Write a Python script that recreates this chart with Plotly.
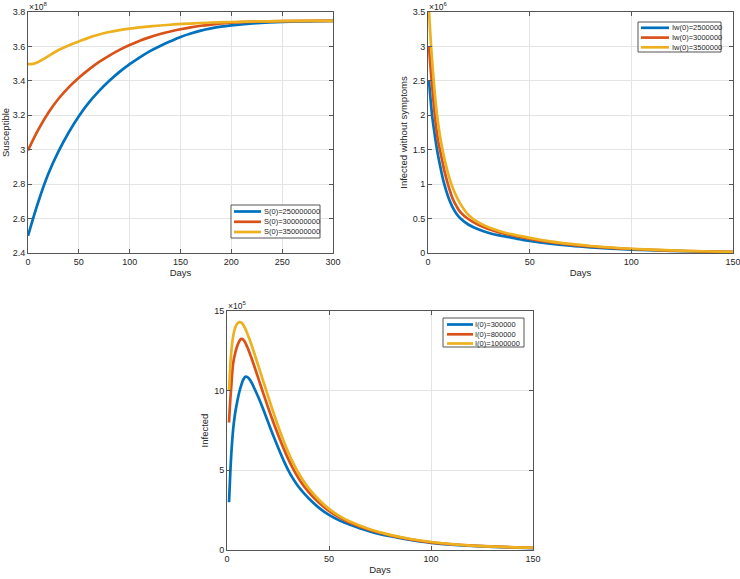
import plotly.graph_objects as go

# ---------------- data ----------------
# Panel 1: Susceptible (values in units of 1e8)
s_days = [0, 10, 20, 30, 40, 50, 60, 70, 80, 90, 100, 110, 120, 130, 140, 150, 160, 170, 180, 190, 200, 225, 250, 275, 300]
s_250 = [2.50, 2.695, 2.86, 2.99, 3.10, 3.195, 3.275, 3.342, 3.40, 3.452, 3.497, 3.537, 3.573, 3.603, 3.63, 3.655, 3.675, 3.692, 3.705, 3.715, 3.722, 3.735, 3.743, 3.746, 3.748]
s_300 = [2.996, 3.115, 3.215, 3.296, 3.362, 3.418, 3.467, 3.51, 3.547, 3.58, 3.608, 3.633, 3.654, 3.672, 3.687, 3.70, 3.711, 3.72, 3.727, 3.733, 3.738, 3.744, 3.747, 3.748, 3.748]
s_350_days = [0, 5, 10, 15, 20, 25, 30, 40, 50, 60, 70, 80, 90, 100, 120, 140, 160, 180, 200, 225, 250, 275, 300]
s_350 = [3.497, 3.499, 3.51, 3.526, 3.544, 3.562, 3.579, 3.606, 3.629, 3.651, 3.669, 3.684, 3.695, 3.703, 3.716, 3.726, 3.733, 3.739, 3.742, 3.745, 3.747, 3.748, 3.748]
s_names = ["S(0)=250000000", "S(0)=300000000", "S(0)=350000000"]

# Panel 2: Infected without symptoms (values in units of 1e6)
iw_days = [0.5, 1, 2, 3, 4, 5, 6, 7, 8, 10, 12, 14, 16, 20, 25, 30, 35, 40, 45, 50, 60, 70, 80, 90, 100, 120, 140, 150]
iw_25 = [2.5, 2.32, 2.0, 1.78, 1.58, 1.41, 1.26, 1.12, 1.0, 0.81, 0.67, 0.57, 0.50, 0.41, 0.34, 0.29, 0.255, 0.23, 0.20, 0.175, 0.135, 0.105, 0.082, 0.064, 0.05, 0.03, 0.018, 0.014]
iw_30 = [3.0, 2.79, 2.43, 2.1, 1.83, 1.62, 1.48, 1.34, 1.2, 0.98, 0.80, 0.68, 0.59, 0.49, 0.405, 0.345, 0.30, 0.265, 0.235, 0.205, 0.158, 0.122, 0.095, 0.074, 0.058, 0.035, 0.021, 0.017]
iw_35 = [3.5, 3.25, 2.8, 2.43, 2.12, 1.88, 1.68, 1.52, 1.38, 1.14, 0.96, 0.82, 0.71, 0.55, 0.44, 0.37, 0.32, 0.28, 0.25, 0.22, 0.17, 0.132, 0.102, 0.08, 0.062, 0.037, 0.022, 0.018]
iw_names = ["Iw(0)=2500000", "Iw(0)=3000000", "Iw(0)=3500000"]

# Panel 3: Infected (values in units of 1e5)
i_days = [1, 1.5, 2, 3, 4, 5, 6, 7, 8, 9, 10, 11, 12, 14, 16, 18, 20, 22, 24, 26, 28, 30, 32, 34, 36, 38, 40, 45, 50, 55, 60, 70, 80, 90, 100, 110, 120, 135, 150]
i_03 = [3.0, 4.5, 5.8, 7.55, 8.6, 9.3, 9.9, 10.35, 10.7, 10.87, 10.85, 10.72, 10.52, 9.98, 9.4, 8.75, 8.08, 7.4, 6.76, 6.14, 5.55, 5.02, 4.56, 4.16, 3.82, 3.52, 3.25, 2.66, 2.2, 1.86, 1.6, 1.17, 0.86, 0.63, 0.45, 0.34, 0.26, 0.18, 0.12]
i_08 = [8.0, 9.2, 10.1, 11.7, 12.35, 12.8, 13.1, 13.25, 13.2, 13.0, 12.72, 12.4, 12.05, 11.3, 10.52, 9.75, 9.0, 8.27, 7.58, 6.92, 6.3, 5.72, 5.2, 4.73, 4.32, 3.96, 3.64, 2.98, 2.45, 2.05, 1.72, 1.25, 0.92, 0.67, 0.48, 0.36, 0.27, 0.19, 0.13]
i_10 = [10.0, 11.3, 12.3, 13.4, 13.95, 14.2, 14.3, 14.28, 14.12, 13.88, 13.58, 13.24, 12.88, 12.1, 11.3, 10.5, 9.7, 8.92, 8.16, 7.44, 6.76, 6.14, 5.58, 5.08, 4.63, 4.23, 3.88, 3.15, 2.58, 2.14, 1.8, 1.3, 0.95, 0.69, 0.5, 0.37, 0.28, 0.19, 0.14]
i_names = ["I(0)=300000", "I(0)=800000", "I(0)=1000000"]

colors = ["#0072BD", "#D95319", "#EDB120"]

# ---------------- figure ----------------
W, H = 740, 579
def px_x(a, b):
    return [a / W, b / W]
def px_y(top, bottom):
    return [1 - bottom / H, 1 - top / H]

fig = go.Figure()

panels = [
    ([s_days, s_days, s_350_days], [s_250, s_300, s_350], "x", "y"),
    ([iw_days] * 3, [iw_25, iw_30, iw_35], "x2", "y2"),
    ([i_days] * 3, [i_03, i_08, i_10], "x3", "y3"),
]
for days_list, series, xa, ya in panels:
    for days, vals, c in zip(days_list, series, colors):
        fig.add_trace(go.Scatter(x=days, y=vals, mode="lines", showlegend=False,
                                 line=dict(color=c, width=2.7, shape="spline", smoothing=1.0),
                                 xaxis=xa, yaxis=ya))

TXT = "#262626"
LINE = "#555555"
font = dict(family="Liberation Sans, Arial, sans-serif", size=9, color=TXT)
axis_common = dict(showline=True, linecolor=LINE, linewidth=1, mirror="ticks",
                   ticks="inside", ticklen=4, tickcolor=LINE, automargin=False,
                   ticklabeloverflow="allow",
                   showgrid=True, gridcolor="#e4e4e4", gridwidth=1, zeroline=False,
                   tickfont=dict(size=9, color=TXT))
xt = dict(text="Days", standoff=3, font=dict(size=9.5, color=TXT))

fig.update_layout(
    width=W, height=H, margin=dict(l=0, r=0, t=0, b=0),
    paper_bgcolor="white", plot_bgcolor="white", font=font, showlegend=False,
    xaxis=dict(domain=px_x(28, 333), anchor="y", range=[0, 300], tickvals=[0, 50, 100, 150, 200, 250, 300],
               title=xt, **axis_common),
    yaxis=dict(domain=px_y(12, 253), anchor="x", range=[2.4, 3.8],
               tickvals=[2.4, 2.6, 2.8, 3.0, 3.2, 3.4, 3.6, 3.8], ticktext=["2.4", "2.6", "2.8", "3", "3.2", "3.4", "3.6", "3.8"],
               title=dict(text="Susceptible", standoff=3, font=dict(size=9.5, color=TXT)), **axis_common),
    xaxis2=dict(domain=px_x(428, 733), anchor="y2", range=[0, 150], tickvals=[0, 50, 100, 150],
                title=xt, **axis_common),
    yaxis2=dict(domain=px_y(12, 253), anchor="x2", range=[0, 3.5],
                tickvals=[0, 0.5, 1, 1.5, 2, 2.5, 3, 3.5], ticktext=["0", "0.5", "1", "1.5", "2", "2.5", "3", "3.5"],
                title=dict(text="Infected without symptoms", standoff=3, font=dict(size=9.5, color=TXT)), **axis_common),
    xaxis3=dict(domain=px_x(227, 533), anchor="y3", range=[0, 150], tickvals=[0, 50, 100, 150],
                title=xt, **axis_common),
    yaxis3=dict(domain=px_y(311, 550), anchor="x3", range=[0, 15],
                tickvals=[0, 5, 10, 15],
                title=dict(text="Infected", standoff=3, font=dict(size=9.5, color=TXT)), **axis_common),
)

# exponent labels
for x0, ytop, exp in [(28, 0, "8"), (428, 0, "6"), (227, 299, "5")]:
    fig.add_annotation(text="×10<sup>" + exp + "</sup>", xref="paper", yref="paper",
                       x=x0 / W, y=1 - ytop / H, xanchor="left", yanchor="top",
                       showarrow=False, borderpad=0, font=dict(size=8.5, color=TXT))

# MATLAB-style legend boxes (box, sample line, label)
legends = [
    (s_names, (231, 320, 205, 238), [211.5, 221.8, 232], 234, 261),
    (iw_names, (638, 721, 22, 52), [27.8, 37.6, 47.3], 641, 669),
    (i_names, (443, 524, 318, 347), [324.5, 334.3, 343.5], 447, 473),
]
for names, (bx0, bx1, by0, by1), rows, lx0, lx1 in legends:
    fig.add_shape(type="rect", xref="paper", yref="paper",
                  x0=bx0 / W, x1=bx1 / W, y0=1 - by1 / H, y1=1 - by0 / H,
                  line=dict(color=LINE, width=1), fillcolor="white", layer="above")
    for name, yy, c in zip(names, rows, colors):
        fig.add_shape(type="line", xref="paper", yref="paper",
                      x0=lx0 / W, x1=lx1 / W, y0=1 - yy / H, y1=1 - yy / H,
                      line=dict(color=c, width=2.7), layer="above")
        fig.add_annotation(text=name, xref="paper", yref="paper", x=(lx1 + 0.5) / W, y=1 - yy / H,
                           xanchor="left", yanchor="middle", showarrow=False,
                           font=dict(size=7.5, color=TXT))

fig.write_html("out.html", config={"displayModeBar": False},
               post_script="document.body.style.margin='0px';")
